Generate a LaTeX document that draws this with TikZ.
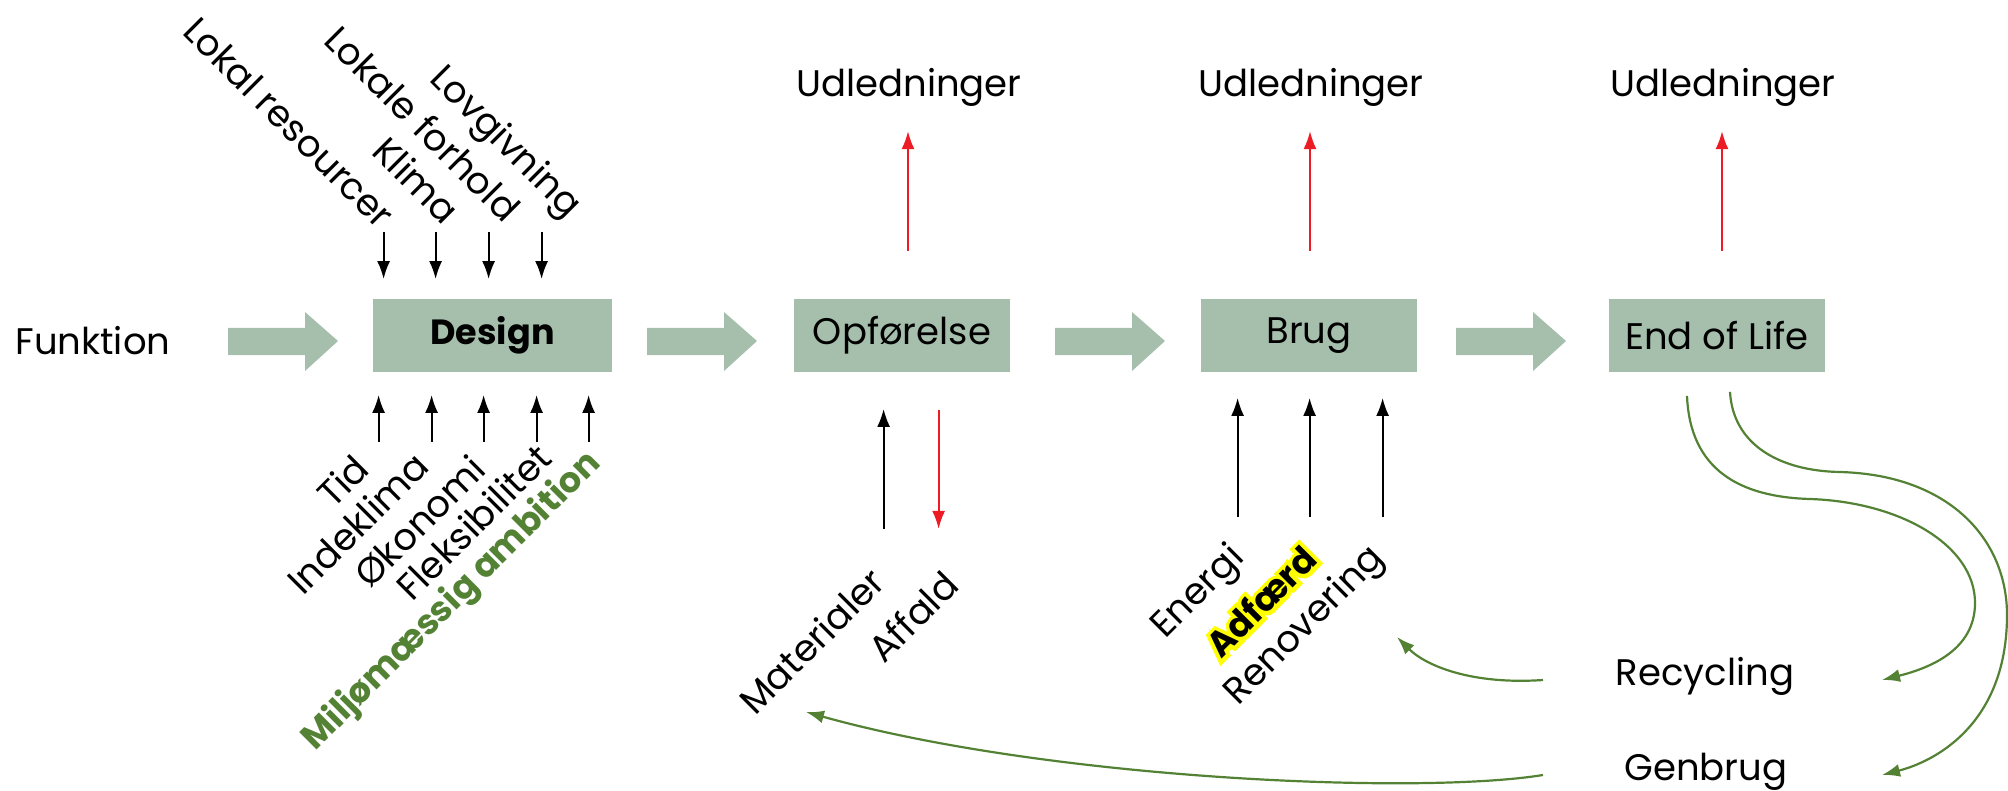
\documentclass[tikz,border=0pt]{standalone}
\usepackage{fontspec}
\setmainfont{Poppins}
\usepackage{tikz}
\usetikzlibrary{arrows.meta}
\usepackage{xcolor}
\definecolor{boxgreen}{RGB}{165,191,172}
\definecolor{darkgreen}{RGB}{84,130,53}
\definecolor{outred}{RGB}{237,28,36}
% yellow rim drawn under the bold word
\newcommand{\Glow}[1]{\rlap{\special{pdf:literal 1 Tr 4 w 1 1 0 RG}#1\special{pdf:literal 0 Tr 0 G}}#1}
\tikzset{box/.style={fill=boxgreen,minimum width=108pt,minimum height=36pt,inner sep=0pt}}
\tikzset{lbl/.style={inner sep=0pt,font=\fontsize{18.5}{22}\selectfont}}
\tikzset{blk/.style={-{Latex[length=9pt,width=6.5pt]},line width=1pt}}
\tikzset{redarr/.style={blk,draw=outred}}
\tikzset{grn/.style={blk,draw=darkgreen,line width=1.1pt}}

\begin{document}
\begin{tikzpicture}[x=0.5pt,y=-0.5pt]
% \draw[help lines] (0,0) grid (2008,791);
\useasboundingbox (0,0) rectangle (2008,791);
\node (fkt) [lbl,anchor=base west] at (15,354) {Funktion};
\node (design) [box,minimum width=119.5pt,font=\fontsize{17.5}{22}\selectfont\bfseries] at (492.5,335.5) {Design};
\node (opf) [box,font=\fontsize{18.5}{22}\selectfont] at (902,335.5) {Opførelse};
\node (brug) [box,font=\fontsize{18.5}{22}\selectfont] at (1309,335.5) {Brug};
\node (eol) [box,font=\fontsize{18.5}{22}\selectfont] at (1717,335.5) {End of Life};
%
% fat arrows between the steps
\foreach \x in {228,647,1055,1456}
  \fill[boxgreen] (\x,328) -- ++(77,0) -- ++(0,-16) -- ++(33,29) -- ++(-33,30) -- ++(0,-16) -- ++(-77,0) -- cycle;
%
% what goes into the design
\node (lres) [lbl,rotate=-45,anchor=base west] at (181,33) {Lokal resourcer};
\node (lfor) [lbl,rotate=-45,anchor=base west] at (322,42) {Lokale forhold};
\node (klima) [lbl,rotate=-45,anchor=base west] at (370,153) {Klima};
\node (lov) [lbl,rotate=-45,anchor=base west] at (428,80) {Lovgivning};
\foreach \dx in {11,63,116,169}
  \draw[blk] ([shift={(\dx,-67)}]design.north west) -- ++(0,47);
\node (tid) [lbl,rotate=45,anchor=base west] at (333,510) {Tid};
\node (inde) [lbl,rotate=45,anchor=base west] at (303,597) {Indeklima};
\node (oko) [lbl,rotate=45,anchor=base west] at (370,590) {Økonomi};
\node (flek) [lbl,rotate=45,anchor=base west] at (412,603) {Fleksibilitet};
\node (milj) [lbl,rotate=45,anchor=base west,text=darkgreen,font=\fontsize{17.5}{22}\selectfont\bfseries] at (315,752) {Miljømæssig ambition};
\foreach \dx in {6,59,111,164,216}
  \draw[blk] ([shift={(\dx,70)}]design.south west) -- ++(0,-47);
%
% emissions
\node (udl1) [lbl,anchor=base] at (909,97) {Udledninger};
\node (udl2) [lbl,anchor=base] at (1311,97) {Udledninger};
\node (udl3) [lbl,anchor=base] at (1723,97) {Udledninger};
\draw[redarr] ([shift={(6,-48)}]opf.north) -- ++(0,-120);
\draw[redarr] ([shift={(1,-48)}]brug.north) -- ++(0,-120);
\draw[redarr] ([shift={(5,-48)}]eol.north) -- ++(0,-120);
%
% construction
\node (mat) [lbl,rotate=45,anchor=base west] at (755,717) {Materialer};
\node (aff) [lbl,rotate=45,anchor=base west] at (884,665) {Affald};
\draw[blk] ([shift={(90,157)}]opf.south west) -- ++(0,-120);
\draw[redarr] ([shift={(145,38)}]opf.south west) -- ++(0,119);
%
% use
\node (ene) [lbl,rotate=45,anchor=base west] at (1165,640) {Energi};
\node (adf) [lbl,rotate=45,anchor=base west,font=\fontsize{17.5}{22}\selectfont\bfseries] at (1221,660) {\Glow{Adfærd}};
\node (ren) [lbl,rotate=45,anchor=base west] at (1238,707) {Renovering};
\foreach \dx in {37,109,182}
  \draw[blk] ([shift={(\dx,145)}]brug.south west) -- ++(0,-119);
%
% end of life
\node (rec) [lbl,anchor=base] at (1705,685) {Recycling};
\node (gen) [lbl,anchor=base] at (1706,780) {Genbrug};
\coordinate (recin) at (1882,680);
\coordinate (genin) at (1882,775);
\coordinate (recout) at (1543,680);
\coordinate (genout) at (1543,775);
\coordinate (renin) at (1397,637);
\coordinate (matin) at (806,712);
\draw[grn] ([shift={(-30,24)}]eol.south) .. controls (1690,470) and (1740,497) .. (1810,499)
  .. controls (1900,502) and (1975,545) .. (1975,603)
  .. controls (1975,650) and (1930,668) .. (recin);
\draw[grn] ([shift={(13,20)}]eol.south) .. controls (1733,445) and (1780,471) .. (1840,472)
  .. controls (1950,475) and (2007,540) .. (2007,615)
  .. controls (2007,720) and (1940,760) .. (genin);
\draw[grn] (recout) .. controls (1470,685) and (1425,665) .. (renin);
\draw[grn] (genout) .. controls (1420,795) and (1050,780) .. (matin);
\end{tikzpicture}
\end{document}
